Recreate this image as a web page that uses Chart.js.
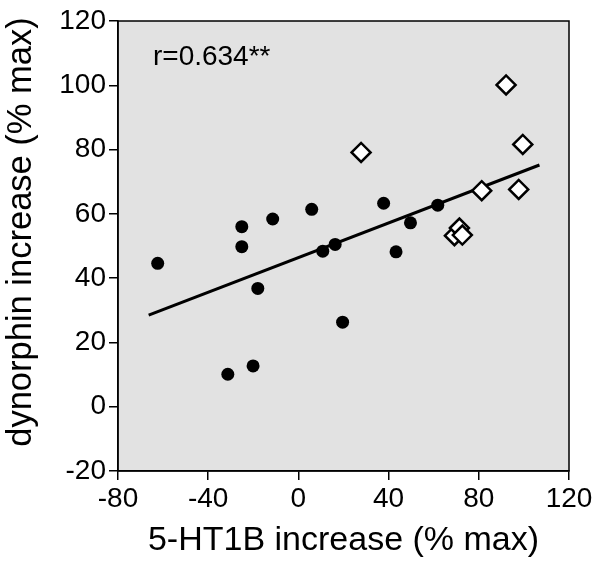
<!DOCTYPE html>
<html>
<head>
<meta charset="utf-8">
<script src="https://cdn.jsdelivr.net/npm/chart.js@4/dist/chart.umd.min.js"></script>
<style>
  html, body { margin: 0; padding: 0; background: #ffffff; }
  #wrap { width: 600px; height: 566px; }
</style>
</head>
<body>
<div id="wrap"><canvas id="c" width="600" height="566"></canvas></div>
<script>
// ---- data ----
const circleX = [-62.4, -31.3, -25.1, -25.1, -20.1, -18.0, -11.4, 5.9, 10.8, 16.3, 19.6, 37.8, 43.3, 49.7, 61.8];
const circleY = [44.6, 10.1, 56.0, 49.8, 12.7, 36.8, 58.4, 61.4, 48.4, 50.5, 26.3, 63.3, 48.2, 57.2, 62.7];
const diamondX = [27.8, 69.2, 71.4, 72.7, 81.3, 92.1, 97.7, 99.5];
const diamondY = [79.1, 53.2, 55.6, 53.4, 67.2, 100.1, 67.6, 81.6];
const fitX = [-66.4, 106.9];
const fitY = [28.5, 75.2];
const xTicks = [-80, -40, 0, 40, 80, 120];
const yTicks = [-20, 0, 20, 40, 60, 80, 100, 120];
const xTitle = '5-HT1B increase (% max)';
const yTitle = 'dynorphin increase (% max)';
const annotation = 'r=0.634**';
const annotationPos = [-64.5, 106.3];

const toPts = (xs, ys) => xs.map((x, i) => ({x: x, y: ys[i]}));
const FONT = "'Liberation Sans', Arial, Helvetica, sans-serif";

const frame = {
  id: 'frame',
  beforeDraw(chart) {
    const {ctx, chartArea: a} = chart;
    ctx.save();
    ctx.fillStyle = '#e2e2e2';
    ctx.fillRect(a.left, a.top, a.right - a.left, a.bottom - a.top);
    ctx.restore();
  },
  afterDraw(chart) {
    const {ctx, chartArea: a, scales} = chart;
    ctx.save();
    ctx.strokeStyle = '#000';
    ctx.lineWidth = 1.5;
    ctx.strokeRect(a.left, a.top, a.right - a.left, a.bottom - a.top);
    ctx.fillStyle = '#000';
    ctx.font = '28px ' + FONT;
    ctx.textAlign = 'left';
    ctx.textBaseline = 'alphabetic';
    ctx.fillText(annotation, scales.x.getPixelForValue(annotationPos[0]), scales.y.getPixelForValue(annotationPos[1]));
    // y-axis title (rotated), placed like the reference
    ctx.translate(21, (a.top + a.bottom) / 2 - 14);
    ctx.rotate(-Math.PI / 2);
    ctx.font = '34.5px ' + FONT;
    ctx.textAlign = 'center';
    ctx.textBaseline = 'middle';
    ctx.fillText(yTitle, 0, 0);
    ctx.restore();
  }
};

new Chart(document.getElementById('c'), {
  type: 'scatter',
  data: {
    datasets: [
      {
        label: 'diamonds',
        data: toPts(diamondX, diamondY),
        pointStyle: 'rectRot',
        pointRadius: 9.5,
        pointBackgroundColor: '#ffffff',
        pointBorderColor: '#000000',
        pointBorderWidth: 2.5,
        order: 0
      },
      {
        label: 'circles',
        data: toPts(circleX, circleY),
        pointStyle: 'circle',
        pointRadius: 6.5,
        pointBackgroundColor: '#000000',
        pointBorderColor: '#000000',
        pointBorderWidth: 0,
        order: 1
      },
      {
        label: 'fit',
        type: 'line',
        data: toPts(fitX, fitY),
        borderColor: '#000000',
        borderWidth: 3,
        pointRadius: 0,
        fill: false,
        order: 2
      }
    ]
  },
  options: {
    responsive: false,
    animation: false,
    devicePixelRatio: 1,
    layout: { padding: { left: 0, top: 21, right: 31, bottom: 0 } },
    plugins: { legend: { display: false }, tooltip: { enabled: false } },
    scales: {
      x: {
        type: 'linear',
        min: -80, max: 120,
        afterBuildTicks(s) { s.ticks = xTicks.map(v => ({value: v})); },
        afterFit(s) { s.height = 95; },
        ticks: { color: '#000', font: { family: FONT, size: 28 }, padding: 2, maxRotation: 0 },
        grid: { drawOnChartArea: false, drawTicks: true, tickLength: 9, color: '#000', lineWidth: 1.5 },
        border: { display: true, color: '#000', width: 1.5 },
        title: { display: true, text: xTitle, color: '#000', font: { family: FONT, size: 34 }, padding: { top: 0, bottom: 5 } }
      },
      y: {
        type: 'linear',
        min: -20, max: 120,
        afterBuildTicks(s) { s.ticks = yTicks.map(v => ({value: v})); },
        afterFit(s) { s.width = 118; },
        ticks: { color: '#000', font: { family: FONT, size: 28 }, padding: 3 },
        grid: { drawOnChartArea: false, drawTicks: true, tickLength: 9, color: '#000', lineWidth: 1.5 },
        border: { display: true, color: '#000', width: 1.5 },
        title: { display: false, text: yTitle }
      }
    }
  },
  plugins: [frame]
});
</script>
</body>
</html>
